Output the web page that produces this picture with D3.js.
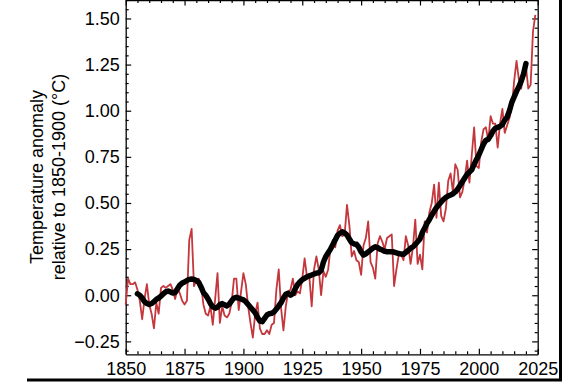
<!DOCTYPE html>
<html>
<head>
<meta charset="utf-8">
<script src="https://cdn.jsdelivr.net/npm/d3@7"></script>
<style>
  html, body { margin: 0; padding: 0; background: #fff; }
  svg { display: block; }
  text { font-family: "Liberation Sans", Arial, Helvetica, sans-serif; fill: #000; }
</style>
</head>
<body>
<svg id="chart" width="578" height="385"></svg>
<script>
// annual global mean temperature anomaly (°C, rel. 1850-1900), 1850..2024
const annualStart = 1850;
const annual = [
  -0.05, 0.09, 0.06, 0.06, 0.07, 0.03, -0.03, -0.13, -0.02, 0.06,
  -0.05, -0.10, -0.18, -0.04, -0.10, 0.04, 0.05, 0.04, 0.05, 0.06,
  0.03, -0.02, 0.04, 0.01, -0.03, -0.05, -0.03, 0.30, 0.36, 0.05,
  0.08, 0.09, 0.06, -0.05, -0.10, -0.11, -0.06, -0.16, -0.02, 0.12,
  -0.15, -0.06, -0.11, -0.12, -0.10, -0.04, 0.09, 0.09, -0.08, 0.02,
  0.12, 0.06, -0.06, -0.15, -0.23, -0.10, -0.04, -0.18, -0.21, -0.21,
  -0.19, -0.21, -0.16, -0.15, 0.03, 0.14, -0.07, -0.19, -0.06, 0.02,
  0.03, 0.09, 0.00, 0.02, 0.01, 0.09, 0.20, 0.10, 0.10, -0.06,
  0.14, 0.21, 0.14, 0.00, 0.13, 0.10, 0.14, 0.26, 0.30, 0.26,
  0.35, 0.38, 0.32, 0.33, 0.49, 0.38, 0.21, 0.24, 0.19, 0.18,
  0.11, 0.27, 0.31, 0.40, 0.18, 0.15, 0.09, 0.28, 0.32, 0.29,
  0.25, 0.31, 0.32, 0.33, 0.05, 0.14, 0.22, 0.22, 0.19, 0.32,
  0.27, 0.17, 0.26, 0.41, 0.17, 0.22, 0.14, 0.40, 0.34, 0.45,
  0.50, 0.60, 0.42, 0.61, 0.43, 0.40, 0.47, 0.62, 0.66, 0.56,
  0.71, 0.68, 0.53, 0.56, 0.63, 0.73, 0.61, 0.76, 0.91, 0.70,
  0.69, 0.83, 0.90, 0.91, 0.84, 0.97, 0.93, 0.93, 0.80, 0.93,
  1.01, 0.88, 0.92, 0.96, 1.02, 1.16, 1.27, 1.17, 1.12, 1.22,
  1.24, 1.12, 1.14, 1.43, 1.52
];

// smoothed series, 1855..2020
const smoothStart = 1855;
const smooth = [
  0.008, 0.000, -0.015, -0.035, -0.045, -0.050, -0.045, -0.035, -0.022, -0.015,
  -0.005, 0.008, 0.018, 0.023, 0.018, 0.012, 0.015, 0.035, 0.055, 0.066,
  0.072, 0.080, 0.086, 0.088, 0.086, 0.080, 0.070, 0.045, 0.015, 0.000,
  -0.020, -0.045, -0.063, -0.070, -0.065, -0.050, -0.045, -0.052, -0.058, -0.048,
  -0.030, -0.015, -0.011, -0.015, -0.020, -0.025, -0.035, -0.050, -0.065, -0.080,
  -0.095, -0.120, -0.140, -0.143, -0.125, -0.107, -0.100, -0.098, -0.090, -0.075,
  -0.058, -0.040, -0.015, 0.005, 0.011, 0.000, 0.008, 0.035, 0.058, 0.072,
  0.085, 0.092, 0.100, 0.105, 0.110, 0.115, 0.120, 0.122, 0.135, 0.180,
  0.210, 0.230, 0.250, 0.275, 0.300, 0.325, 0.336, 0.344, 0.338, 0.326,
  0.305, 0.285, 0.278, 0.276, 0.260, 0.235, 0.218, 0.225, 0.235, 0.245,
  0.255, 0.263, 0.258, 0.250, 0.245, 0.238, 0.236, 0.236, 0.236, 0.234,
  0.230, 0.226, 0.223, 0.222, 0.232, 0.243, 0.255, 0.262, 0.275, 0.290,
  0.305, 0.340, 0.365, 0.390, 0.410, 0.435, 0.455, 0.475, 0.490, 0.505,
  0.520, 0.530, 0.538, 0.543, 0.550, 0.560, 0.575, 0.595, 0.615, 0.635,
  0.655, 0.668, 0.680, 0.710, 0.735, 0.760, 0.790, 0.820, 0.840, 0.845,
  0.865, 0.890, 0.905, 0.910, 0.915, 0.925, 0.950, 0.965, 1.000, 1.045,
  1.075, 1.105, 1.130, 1.160, 1.200, 1.255
];

const xMajor = [1850, 1875, 1900, 1925, 1950, 1975, 2000, 2025];
const yMajor = [-0.25, 0, 0.25, 0.5, 0.75, 1.0, 1.25, 1.5];

const svg = d3.select("#chart");
const margin = { left: 125.7, right: 40.3, top: 0, bottom: 30.7 };
const W = 578, H = 385;
const iw = W - margin.left - margin.right;
const ih = H - margin.top - margin.bottom;

const x = d3.scaleLinear().domain([1850, 2025]).range([0, iw]);
const y = d3.scaleLinear().domain([-0.32, 1.6]).range([ih, 0]);

const g = svg.append("g").attr("transform", `translate(${margin.left},${margin.top})`);

const xMinor = d3.range(1850, 2026, 5).filter(v => v % 25 !== 0);
const yMinor = d3.range(-30, 161, 5).map(v => v / 100).filter(v => Math.abs(Math.round(v * 100) % 25) !== 0);

function styleAxis(sel) {
  sel.select(".domain").attr("stroke", "#000").attr("stroke-width", 1.3);
  sel.selectAll(".tick line").attr("stroke", "#000").attr("stroke-width", 1.2);
  sel.selectAll("text").attr("font-size", 18).attr("fill", "#000")
    .style("font-family", '"Liberation Sans", Arial, sans-serif');
}

// bottom
g.append("g").attr("transform", `translate(0,${ih})`)
  .call(d3.axisBottom(x).tickValues(xMajor).tickFormat(d3.format("d"))
    .tickSizeInner(-5.5).tickSizeOuter(0).tickPadding(8))
  .call(styleAxis);
g.append("g").attr("transform", `translate(0,${ih})`)
  .call(d3.axisBottom(x).tickValues(xMinor).tickFormat("").tickSizeInner(-3).tickSizeOuter(0))
  .call(styleAxis).select(".domain").remove();

// top
g.append("g")
  .call(d3.axisTop(x).tickValues(xMajor).tickFormat("").tickSizeInner(-5.5).tickSizeOuter(0))
  .call(styleAxis);
g.append("g")
  .call(d3.axisTop(x).tickValues(xMinor).tickFormat("").tickSizeInner(-3).tickSizeOuter(0))
  .call(styleAxis).select(".domain").remove();

// left
g.append("g")
  .call(d3.axisLeft(y).tickValues(yMajor).tickFormat(d3.format(".2f"))
    .tickSizeInner(-5.5).tickSizeOuter(0).tickPadding(6))
  .call(styleAxis);
g.append("g")
  .call(d3.axisLeft(y).tickValues(yMinor).tickFormat("").tickSizeInner(-3).tickSizeOuter(0))
  .call(styleAxis).select(".domain").remove();

// right
g.append("g").attr("transform", `translate(${iw},0)`)
  .call(d3.axisRight(y).tickValues(yMajor).tickFormat("").tickSizeInner(-5.5).tickSizeOuter(0))
  .call(styleAxis);
g.append("g").attr("transform", `translate(${iw},0)`)
  .call(d3.axisRight(y).tickValues(yMinor).tickFormat("").tickSizeInner(-3).tickSizeOuter(0))
  .call(styleAxis).select(".domain").remove();

// lines
const annualPts = annual.map((v, i) => [annualStart + i, v]);
const smoothPts = smooth.map((v, i) => [smoothStart + i, v]);

const line = d3.line().x(d => x(d[0])).y(d => y(d[1]));

g.append("path").datum(annualPts)
  .attr("fill", "none").attr("stroke", "#c4373c").attr("stroke-width", 1.8)
  .attr("stroke-linejoin", "round").attr("d", line);

g.append("path").datum(smoothPts)
  .attr("fill", "none").attr("stroke", "#000").attr("stroke-width", 5.5)
  .attr("stroke-linejoin", "round").attr("stroke-linecap", "round").attr("d", line);

// y label
const ylab = svg.append("text")
  .attr("text-anchor", "middle").attr("font-size", 18)
  .attr("transform", "translate(43,177) rotate(-90)");
ylab.append("tspan").attr("x", 0).attr("y", 0).text("Temperature anomaly");
ylab.append("tspan").attr("x", 0).attr("y", 22).text("relative to 1850-1900 (°C)");

// outer frame edge (bottom and right)
svg.append("path")
  .attr("d", "M27,380 H560.5 V0")
  .attr("fill", "none").attr("stroke", "#000").attr("stroke-width", 3);
</script>
</body>
</html>
